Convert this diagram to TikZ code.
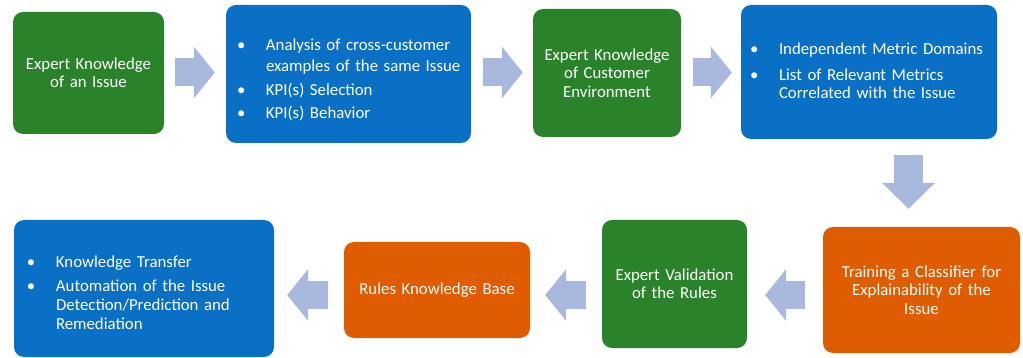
\documentclass[tikz,border=0pt]{standalone}
\usepackage{fontspec}
\setmainfont{Carlito}
\usetikzlibrary{arrows.meta}

\definecolor{boxgreen}{HTML}{2A822A}
\definecolor{boxblue}{HTML}{0A70C6}
\definecolor{boxorange}{HTML}{E05C00}
\definecolor{flowblue}{HTML}{A9B9DD}

% list with a bullet column followed by the text column
\newenvironment{bulletlist}{\begin{tabular}{@{}p{29pt}@{}l@{}}}{\end{tabular}}
% move the contents of a node down by #1 (extra invisible room on top)
\newcommand{\lowerby}[2]{\raisebox{0pt}[\dimexpr\height+2\dimexpr#1\relax\relax][\depth]{#2}}

\begin{document}
\begin{tikzpicture}[x=1pt,y=-1pt,
  box/.style={rounded corners=10pt, inner sep=0pt, text=white,
    font=\fontsize{16.8}{18.3}\selectfont},
  greenbox/.style={box, fill=boxgreen},
  bluebox/.style={box, fill=boxblue},
  orangebox/.style={box, fill=boxorange},
  flow/.style={draw=flowblue, line width=28pt,
    -{Triangle[width=52pt,length=21pt,line width=0pt,fill=flowblue]}},
  flowdown/.style={draw=flowblue, line width=29pt,
    -{Triangle[width=53pt,length=26pt,line width=0pt,fill=flowblue]}}]

\useasboundingbox (0,0) rectangle (1023,358);

% top row
\node[greenbox, minimum width=151pt, minimum height=122pt, text width=141pt, align=center]
  (issue) at (88.5,73) {Expert Knowledge\\of an Issue};
\node[bluebox, minimum width=245pt, minimum height=138pt, text width=223pt, align=left,
  font=\fontsize{16.8}{21}\selectfont]
  (analysis) at (348.5,74) {\lowerby{6pt}{\begin{bulletlist}
    \textbullet & Analysis of cross-customer\\
                & examples of the same Issue\\[3pt]
    \textbullet & KPI(s) Selection\\[2pt]
    \textbullet & KPI(s) Behavior
  \end{bulletlist}}};
\node[greenbox, minimum width=148pt, minimum height=128pt, text width=138pt, align=center]
  (environment) at (607,73) {Expert Knowledge\\of Customer\\Environment};
\node[bluebox, minimum width=256pt, minimum height=134pt, text width=238pt, align=left]
  (metrics) at (869,72) {\lowerby{1pt}{\begin{bulletlist}
    \textbullet & Independent Metric Domains\\[7pt]
    \textbullet & List of Relevant Metrics\\
                & Correlated with the Issue
  \end{bulletlist}}};

% bottom row
\node[orangebox, minimum width=197pt, minimum height=126pt, text width=187pt, align=center]
  (classifier) at (921.5,290) {Training a Classifier for\\Explainability of the\\Issue};
\node[greenbox, minimum width=145pt, minimum height=128pt, text width=135pt, align=center]
  (validation) at (674.5,284) {Expert Validation\\of the Rules};
\node[orangebox, minimum width=186pt, minimum height=96pt, text width=176pt, align=center]
  (rules) at (437,290) {Rules Knowledge Base};
\node[bluebox, minimum width=260pt, minimum height=137pt, text width=234pt, align=left,
  font=\fontsize{16.8}{18.6}\selectfont]
  (transfer) at (144,288.5) {\lowerby{6pt}{\begin{bulletlist}
    \textbullet & Knowledge Transfer\\[6pt]
    \textbullet & Automation of the Issue\\
                & Detection/Prediction and\\
                & Remediation
  \end{bulletlist}}};

% flow arrows
\coordinate (toprow) at (0,72.5);
\coordinate (bottomrow) at (0,295);
\coordinate (downcol) at (908.5,0);

\draw[flow, shorten <=11pt, shorten >=11pt] (issue.east |- toprow) -- (analysis.west |- toprow);
\draw[flow, shorten <=12pt, shorten >=10pt] (analysis.east |- toprow) -- (environment.west |- toprow);
\draw[flow, shorten <=12pt, shorten >=9pt] (environment.east |- toprow) -- (metrics.west |- toprow);
\draw[flowdown, shorten <=16pt, shorten >=18pt] (metrics.south -| downcol) -- (classifier.north -| downcol);
\draw[flow, shorten <=18pt, shorten >=18pt] (classifier.west |- bottomrow) -- (validation.east |- bottomrow);
\draw[flow, shorten <=16pt, shorten >=15pt] (validation.west |- bottomrow) -- (rules.east |- bottomrow);
\draw[flow, shorten <=16pt, shorten >=13pt] (rules.west |- bottomrow) -- (transfer.east |- bottomrow);
\end{tikzpicture}
\end{document}
